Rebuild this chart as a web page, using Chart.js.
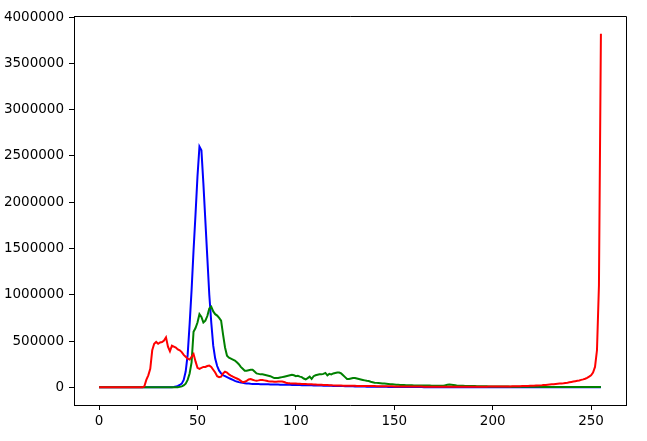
<!DOCTYPE html>
<html>
<head>
<meta charset="utf-8">
<script src="https://cdn.jsdelivr.net/npm/chart.js@4/dist/chart.umd.min.js"></script>
<style>
  html, body { margin: 0; padding: 0; background: #fff; }
  #hist { display: block; }
</style>
</head>
<body>
<canvas id="hist" width="647" height="441"></canvas>
<script>
// histogram bins 0..255
const bins = Array.from({ length: 256 }, (_, i) => i);

const blueCounts = [
  0, 0, 0, 0, 0, 0, 0, 0, 0, 0, 0, 0, 0, 0, 0, 0, 0, 0, 0, 0,
  0, 0, 0, 0, 0, 0, 0, 0, 0, 0, 0, 0, 0, 0, 0, 0, 0, 0, 3000, 8000,
  15000, 25000, 40000, 80000, 170000, 350000, 680000, 1050000, 1480000, 1870000,
  2280000, 2600000, 2560000, 2200000, 1800000, 1400000, 1000000, 700000, 450000, 310000,
  230000, 180000, 150000, 130000, 120000, 110000, 100000, 90000, 80000, 70000,
  62000, 56000, 52000, 48000, 45000, 42000, 40000, 38000, 37000, 36000,
  35000, 34500, 34000, 33500, 33000, 32500, 32000, 31500, 31000, 30500,
  30000, 29500, 29000, 28500, 28000, 27500, 27000, 26500, 26000, 25500,
  25000, 24500, 24000, 23500, 23000, 22500, 22000, 21500, 21000, 20500,
  20000, 19500, 19000, 18500, 18000, 17500, 17000, 16500, 16000, 15500,
  15000, 14500, 14000, 13500, 13000, 12500, 12000, 11500, 11000, 10500,
  10000, 9500, 9000, 8500, 8000, 7500, 7000, 6800, 6500, 6200,
  6000, 5800, 5600, 5400, 5200, 5000, 4800, 4600, 4400, 4200,
  4000, 3800, 3600, 3400, 3200, 3000, 2900, 2800, 2700, 2600,
  2500, 2400, 2300, 2200, 2100, 2000, 2000, 2000, 2000, 2000,
  2000, 2000, 2000, 2000, 2000, 2000, 2000, 2000, 2000, 2000,
  2000, 2000, 2000, 2000, 2000, 2000, 2000, 2000, 2000, 2000,
  1500, 1500, 1500, 1500, 1500, 1500, 1500, 1500, 1500, 1500,
  1500, 1500, 1500, 1500, 1500, 1500, 1500, 1500, 1500, 1500,
  1200, 1200, 1200, 1200, 1200, 1200, 1200, 1200, 1200, 1200,
  1000, 1000, 1000, 1000, 1000, 1000, 1000, 1000, 1000, 1000,
  1000, 1000, 1000, 1000, 1000, 1000, 1000, 1000, 1000, 1000,
  1000, 1000, 1000, 1000, 1000, 1000, 1000, 1000, 1000, 1000,
  1000, 1000, 1000, 1000, 1000, 1000, 1000, 1000, 1000, 1000,
  1000, 1000, 1000, 1000, 1000, 1000
];

const greenCounts = [
  0, 0, 0, 0, 0, 0, 0, 0, 0, 0, 0, 0, 0, 0, 0, 0, 0, 0, 0, 0,
  0, 0, 0, 0, 0, 0, 0, 0, 0, 0, 0, 0, 0, 0, 0, 0, 0, 0, 0, 0,
  0, 5000, 10000, 20000, 40000, 80000, 150000, 270000, 600000, 640000,
  700000, 790000, 760000, 700000, 720000, 770000, 850000, 870000, 820000, 790000,
  775000, 750000, 720000, 570000, 430000, 340000, 320000, 310000, 300000, 290000,
  270000, 250000, 220000, 200000, 180000, 180000, 185000, 190000, 190000, 170000,
  150000, 145000, 140000, 140000, 135000, 130000, 125000, 120000, 110000, 100000,
  100000, 100000, 105000, 110000, 115000, 120000, 125000, 130000, 135000, 130000,
  120000, 125000, 115000, 110000, 95000, 85000, 100000, 115000, 90000, 120000,
  130000, 135000, 140000, 140000, 145000, 155000, 130000, 145000, 140000, 150000,
  155000, 160000, 160000, 150000, 130000, 110000, 90000, 90000, 95000, 100000,
  100000, 95000, 90000, 85000, 80000, 75000, 70000, 68000, 60000, 55000,
  50000, 48000, 46000, 44000, 42000, 40000, 38000, 36000, 34000, 32000,
  30000, 28000, 27000, 26000, 25000, 24000, 23000, 22000, 21500, 21000,
  20500, 20000, 20000, 19500, 19500, 19000, 19000, 18500, 18500, 18000,
  18000, 18000, 18000, 18000, 18000, 18000, 22000, 28000, 30000, 28000,
  25000, 22000, 18000, 17000, 16500, 16000, 15500, 15000, 14500, 14000,
  13500, 13000, 12500, 12000, 11500, 11000, 10500, 10500, 10000, 10000,
  10000, 9000, 9000, 8500, 8500, 8000, 8000, 7500, 7500, 7000,
  7000, 7000, 6500, 6500, 6500, 6000, 6000, 6000, 5500, 5500,
  5500, 5000, 5000, 5000, 5000, 4500, 4500, 4500, 4500, 4000,
  4000, 4000, 4000, 4000, 3500, 3500, 3500, 3500, 3500, 3500,
  3000, 3000, 3000, 3000, 3000, 3000, 3000, 3000, 3000, 3000,
  3000, 3000, 3000, 3000, 3000, 3000
];

const redCounts = [
  0, 0, 0, 0, 0, 0, 0, 0, 0, 0, 0, 0, 0, 0, 0, 0, 0, 0, 0, 0,
  0, 0, 0, 10000, 80000, 130000, 200000, 400000, 470000, 490000,
  470000, 485000, 490000, 505000, 540000, 440000, 390000, 450000, 440000, 430000,
  410000, 400000, 380000, 350000, 330000, 310000, 300000, 330000, 360000, 280000,
  210000, 200000, 210000, 220000, 220000, 230000, 235000, 220000, 190000, 160000,
  120000, 110000, 115000, 150000, 170000, 160000, 140000, 127000, 115000, 105000,
  95000, 85000, 70000, 55000, 60000, 70000, 85000, 90000, 82000, 75000,
  72000, 75000, 80000, 80000, 75000, 70000, 65000, 62000, 62000, 60000,
  60000, 62000, 62000, 62000, 58000, 50000, 45000, 43000, 42000, 41000,
  40000, 39000, 38000, 37000, 36000, 35000, 34000, 33000, 32000, 31000,
  30000, 29000, 28000, 27000, 26000, 25000, 24000, 23000, 22000, 21000,
  20000, 19500, 19000, 18500, 18000, 18000, 17500, 17000, 16500, 16000,
  16000, 15500, 15000, 15000, 14500, 14000, 14000, 13500, 13500, 13000,
  13000, 12500, 12500, 12000, 12000, 11500, 11500, 11000, 11000, 10500,
  10000, 10000, 9500, 9500, 9000, 9000, 8500, 8500, 8000, 8000,
  8000, 8000, 7500, 7500, 7500, 7000, 7000, 7000, 7000, 7000,
  6500, 6500, 6500, 6500, 6500, 6500, 6500, 6500, 6500, 6500,
  6000, 6000, 6000, 6000, 6000, 6000, 6000, 6000, 6000, 6000,
  6000, 6000, 6500, 6500, 6500, 7000, 7000, 7000, 7500, 7500,
  8000, 8000, 8500, 8500, 9000, 9000, 9500, 9500, 10000, 10000,
  10500, 11000, 11500, 12000, 12500, 13000, 13500, 14000, 15000, 16000,
  17000, 18000, 19000, 20000, 21000, 22000, 24000, 26000, 28000, 30000,
  32000, 34000, 36000, 38000, 40000, 42000, 44000, 47000, 50000, 54000,
  58000, 62000, 66000, 70000, 74000, 80000, 86000, 93000, 102000, 115000,
  130000, 160000, 220000, 400000, 1100000, 3820000
];

const xTickValues = [0, 50, 100, 150, 200, 250];
const yTickValues = [0, 500000, 1000000, 1500000, 2000000, 2500000, 3000000, 3500000, 4000000];

const tickFont = { family: 'DejaVu Sans', size: 13.5 };

function toPoints(counts) {
  return counts.map((v, i) => ({ x: bins[i], y: v }));
}

// order: lower value is drawn on top, so red ends up over green over blue
function makeDataset(counts, color, order) {
  return {
    data: toPoints(counts),
    borderColor: color,
    backgroundColor: color,
    borderWidth: 2,
    pointRadius: 0,
    tension: 0,
    fill: false,
    order
  };
}

// matplotlib style frame: top and right spines
const framePlugin = {
  id: 'frame',
  afterDatasetsDraw(chart) {
    const { ctx, chartArea } = chart;
    ctx.save();
    ctx.strokeStyle = '#000';
    ctx.lineWidth = 1;
    ctx.beginPath();
    ctx.moveTo(chartArea.left, chartArea.top + 0.5);
    ctx.lineTo(chartArea.right + 0.5, chartArea.top + 0.5);
    ctx.lineTo(chartArea.right + 0.5, chartArea.bottom);
    ctx.stroke();
    ctx.restore();
  }
};

const whiteBg = {
  id: 'whiteBg',
  beforeDraw(chart) {
    const { ctx } = chart;
    ctx.save();
    ctx.fillStyle = '#fff';
    ctx.fillRect(0, 0, chart.width, chart.height);
    ctx.restore();
  }
};

const config = {
  type: 'line',
  data: {
    datasets: [
      makeDataset(blueCounts, '#0000ff', 3),
      makeDataset(greenCounts, '#008000', 2),
      makeDataset(redCounts, '#ff0000', 1)
    ]
  },
  options: {
    responsive: false,
    animation: false,
    layout: { padding: { left: 0, right: 21, top: 16, bottom: 0 } },
    plugins: {
      legend: { display: false },
      tooltip: { enabled: false }
    },
    scales: {
      x: {
        type: 'linear',
        min: -12.75,
        max: 267.75,
        afterBuildTicks: (scale) => { scale.ticks = xTickValues.map((v) => ({ value: v })); },
        afterFit: (scale) => { scale.height = 36; },
        grid: { drawOnChartArea: false, drawTicks: true, tickLength: 5, tickColor: '#000', tickWidth: 1 },
        border: { display: true, color: '#000', width: 1 },
        ticks: { color: '#000', font: tickFont, padding: 3, maxRotation: 0 }
      },
      y: {
        type: 'linear',
        min: -191000,
        max: 4011000,
        afterBuildTicks: (scale) => { scale.ticks = yTickValues.map((v) => ({ value: v })); },
        afterFit: (scale) => { scale.width = 74; },
        grid: { drawOnChartArea: false, drawTicks: true, tickLength: 5, tickColor: '#000', tickWidth: 1 },
        border: { display: true, color: '#000', width: 1 },
        ticks: { color: '#000', font: tickFont, padding: 5, callback: (v) => String(v) }
      }
    }
  },
  plugins: [whiteBg, framePlugin]
};

new Chart(document.getElementById('hist'), config);
</script>
</body>
</html>
